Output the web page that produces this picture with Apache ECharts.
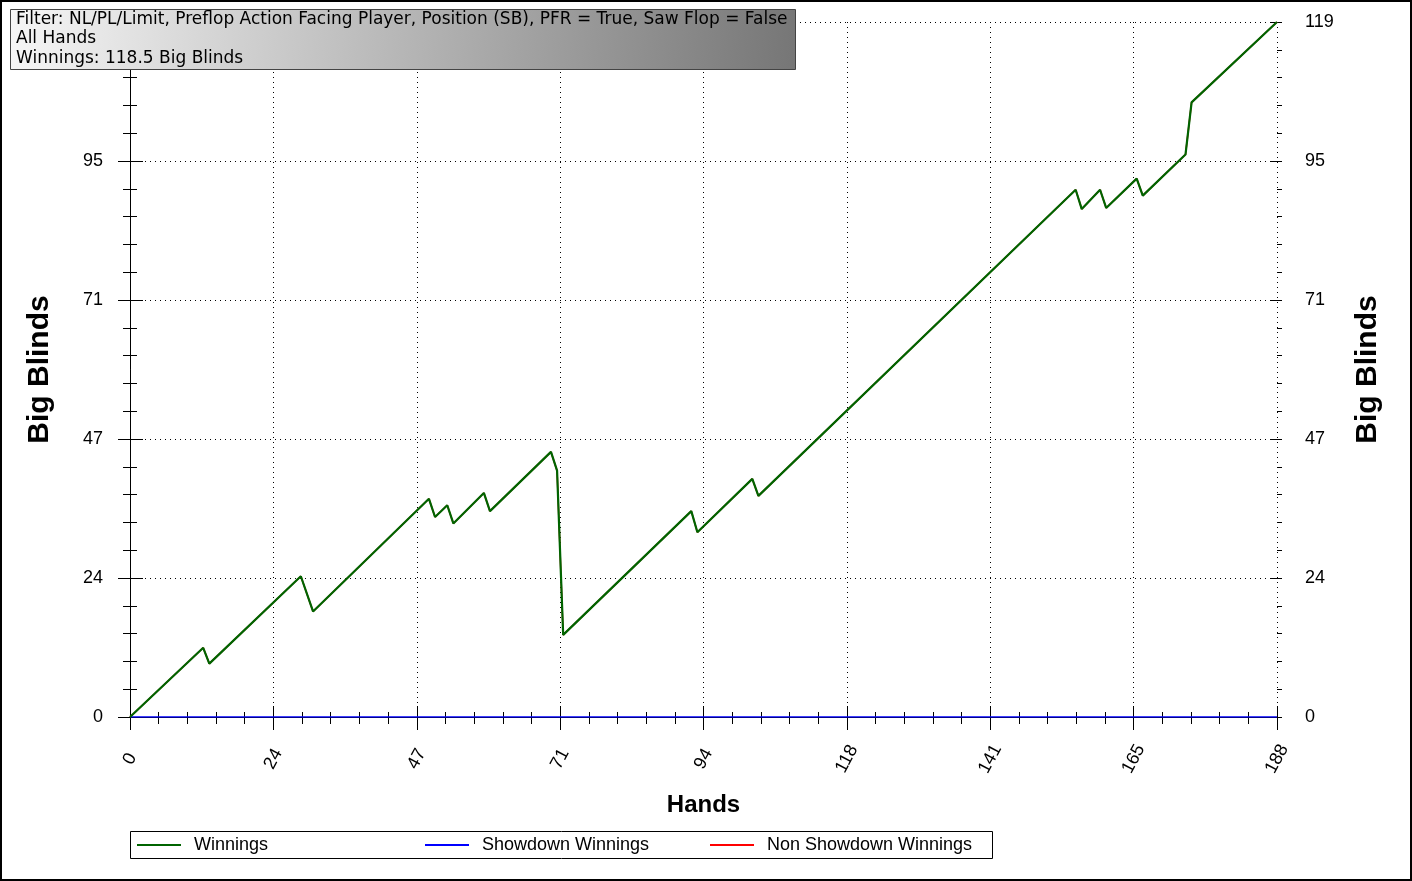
<!DOCTYPE html>
<html>
<head>
<meta charset="utf-8">
<script src="https://cdn.jsdelivr.net/npm/echarts@6/dist/echarts.min.js"></script>
<style>
html, body { margin: 0; padding: 0; background: #fff; }
#chart { width: 1412px; height: 881px; }
</style>
</head>
<body>
<div id="chart"></div>
<script>
// turning points of the cumulative line (hand number, big blinds)
var hands    = [0, 12, 13, 28, 30, 49, 50, 52, 53, 58, 59, 69, 70, 71, 92, 93, 102, 103, 155, 156, 159, 160, 165, 166, 173, 174, 188];
var winnings = [0, 11.8, 9.1, 24.0, 18.0, 37.2, 34.1, 36.1, 33.0, 38.2, 35.1, 45.2, 42.0, 14.0, 35.1, 31.5, 40.6, 37.7, 89.9, 86.6, 89.9, 86.8, 91.8, 88.9, 95.9, 104.8, 118.5];
// showdown line stays flat on zero
var showdownHands = [0, 188];
var showdownWinnings = [0, 0];
// non showdown line lies under the green one
var nonShowdownWinnings = winnings;

var seriesNames = ['Winnings', 'Showdown Winnings', 'Non Showdown Winnings'];
var titleLines = [
    'Filter: NL/PL/Limit, Preflop Action Facing Player, Position (SB), PFR = True, Saw Flop = False',
    'All Hands',
    'Winnings: 118.5 Big Blinds'
];
var xMax = 188, xStep = 23.5;
var yMax = 118.5, yStep = 23.7;

var font = '"Liberation Sans", Arial, sans-serif';

function pairs(xs, ys) {
    return xs.map(function (x, i) { return [x, ys[i]]; });
}
function roundLabel(v) { return Math.round(v); }

var dotted = { show: true, lineStyle: { color: '#000', type: [1, 4], width: 1 } };

// blank axis, pieces switched on below
function axis(min, max, step, extra) {
    var a = {
        type: 'value', min: min, max: max, interval: step,
        axisLine: { show: false },
        axisTick: { show: false },
        minorTick: { show: false },
        axisLabel: { show: false },
        splitLine: { show: false }
    };
    for (var k in extra) a[k] = extra[k];
    return a;
}

var chart = echarts.init(document.getElementById('chart'));

var option = {
    backgroundColor: '#fff',
    animation: false,
    grid: { left: 130, right: 135, top: 22, bottom: 164 },
    xAxis: [
        axis(0, xMax, xStep, {
            position: 'bottom',
            name: 'Hands',
            nameLocation: 'middle',
            nameGap: 76,
            nameTextStyle: { fontSize: 24, fontWeight: 'bold', color: '#000', fontFamily: font },
            axisLine: { show: true, lineStyle: { color: '#000', width: 1 } },
            axisTick: { show: true, length: 13, lineStyle: { color: '#000' } },
            minorTick: { show: true, splitNumber: 5, length: 7, lineStyle: { color: '#000' } },
            axisLabel: {
                show: true, rotate: 62, align: 'center', verticalAlign: 'middle', margin: 42,
                fontSize: 18, color: '#000', fontFamily: font, formatter: roundLabel,
                showMinLabel: true, showMaxLabel: true
            },
            splitLine: dotted
        }),
        axis(0, xMax, xStep, {
            position: 'bottom',
            axisTick: { show: true, inside: true, length: 11, lineStyle: { color: '#000' } },
            minorTick: { show: true, splitNumber: 5, length: 5, lineStyle: { color: '#000' } }
        }),
        axis(0, xMax, xStep, {
            position: 'top',
            axisLine: { show: true, lineStyle: { color: '#000', width: 1 } },
            axisTick: { show: true, inside: true, length: 12, lineStyle: { color: '#000' } },
            minorTick: { show: true, splitNumber: 5, length: 7, lineStyle: { color: '#000' } }
        })
    ],
    yAxis: [
        axis(0, yMax, yStep, {
            position: 'left',
            name: 'Big Blinds',
            nameLocation: 'middle',
            nameGap: 75,
            nameTextStyle: { fontSize: 30, fontWeight: 'bold', color: '#000', fontFamily: font },
            axisLine: { show: true, lineStyle: { color: '#000', width: 1 } },
            axisTick: { show: true, length: 12, lineStyle: { color: '#000' } },
            minorTick: { show: true, splitNumber: 5, length: 7, lineStyle: { color: '#000' } },
            axisLabel: { show: true, margin: 27, fontSize: 18, color: '#000', fontFamily: font, formatter: roundLabel },
            splitLine: dotted
        }),
        axis(0, yMax, yStep, {
            position: 'left',
            axisTick: { show: true, inside: true, length: 13, lineStyle: { color: '#000' } },
            minorTick: { show: true, splitNumber: 5, length: 6, lineStyle: { color: '#000' } }
        }),
        axis(0, yMax, yStep, {
            position: 'right',
            offset: 5,
            name: 'Big Blinds',
            nameLocation: 'middle',
            nameRotate: 90,
            nameGap: 71,
            nameTextStyle: { fontSize: 30, fontWeight: 'bold', color: '#000', fontFamily: font },
            axisLine: { show: true, lineStyle: { color: '#000', width: 1 } },
            axisTick: { show: true, length: 13, lineStyle: { color: '#000' } },
            minorTick: { show: true, splitNumber: 5, length: 7, lineStyle: { color: '#000' } },
            axisLabel: { show: true, margin: 23, fontSize: 18, color: '#000', fontFamily: font, formatter: roundLabel }
        }),
        axis(0, yMax, yStep, {
            position: 'right',
            offset: 5,
            axisTick: { show: true, inside: true, length: 12, lineStyle: { color: '#000' } },
            minorTick: { show: true, splitNumber: 5, length: 5, lineStyle: { color: '#000' } }
        })
    ],
    legend: [
        { data: [seriesNames[0]], left: 137, top: 836 },
        { data: [seriesNames[1]], left: 425, top: 836 },
        { data: [seriesNames[2]], left: 710, top: 836 }
    ].map(function (l) {
        l.padding = 0;
        l.icon = 'rect';
        l.itemWidth = 44;
        l.itemHeight = 2;
        l.selectedMode = false;
        l.textStyle = { fontSize: 18, color: '#000', fontFamily: font, padding: [0, 0, 0, 8] };
        return l;
    }),
    series: [
        {
            name: seriesNames[2], type: 'line', symbol: 'none', z: 2,
            color: '#ff0000', lineStyle: { color: '#ff0000', width: 1.5 },
            data: pairs(hands, nonShowdownWinnings)
        },
        {
            name: seriesNames[1], type: 'line', symbol: 'none', z: 3,
            color: '#0000ff', lineStyle: { color: '#0000ff', width: 1.5 },
            data: pairs(showdownHands, showdownWinnings)
        },
        {
            name: seriesNames[0], type: 'line', symbol: 'none', z: 4,
            color: '#006400', lineStyle: { color: '#006400', width: 2.2 },
            data: pairs(hands, winnings)
        }
    ],
    graphic: [
        {
            type: 'rect', z: 100,
            shape: { x: 1, y: 1, width: 1410, height: 879 },
            style: { fill: 'none', stroke: '#000', lineWidth: 2 }
        },
        {
            type: 'rect', z: 100,
            shape: { x: 10.5, y: 9.5, width: 785, height: 60 },
            style: {
                fill: { type: 'linear', x: 0, y: 0, x2: 1, y2: 1, colorStops: [
                    { offset: 0, color: '#f6f6f6' }, { offset: 1, color: '#767676' }
                ] },
                stroke: '#444', lineWidth: 1
            }
        },
        {
            type: 'rect', z: 100,
            shape: { x: 130.5, y: 831.5, width: 862, height: 27 },
            style: { fill: 'none', stroke: '#000', lineWidth: 1 }
        }
    ].concat(titleLines.map(function (t, i) {
        return {
            type: 'text', z: 101, x: 16, y: 11 + i * 19.5,
            style: { text: t, font: '17px "DejaVu Sans", Verdana, sans-serif', fill: '#000', verticalAlign: 'top' }
        };
    }))
};

chart.setOption(option);
</script>
</body>
</html>
